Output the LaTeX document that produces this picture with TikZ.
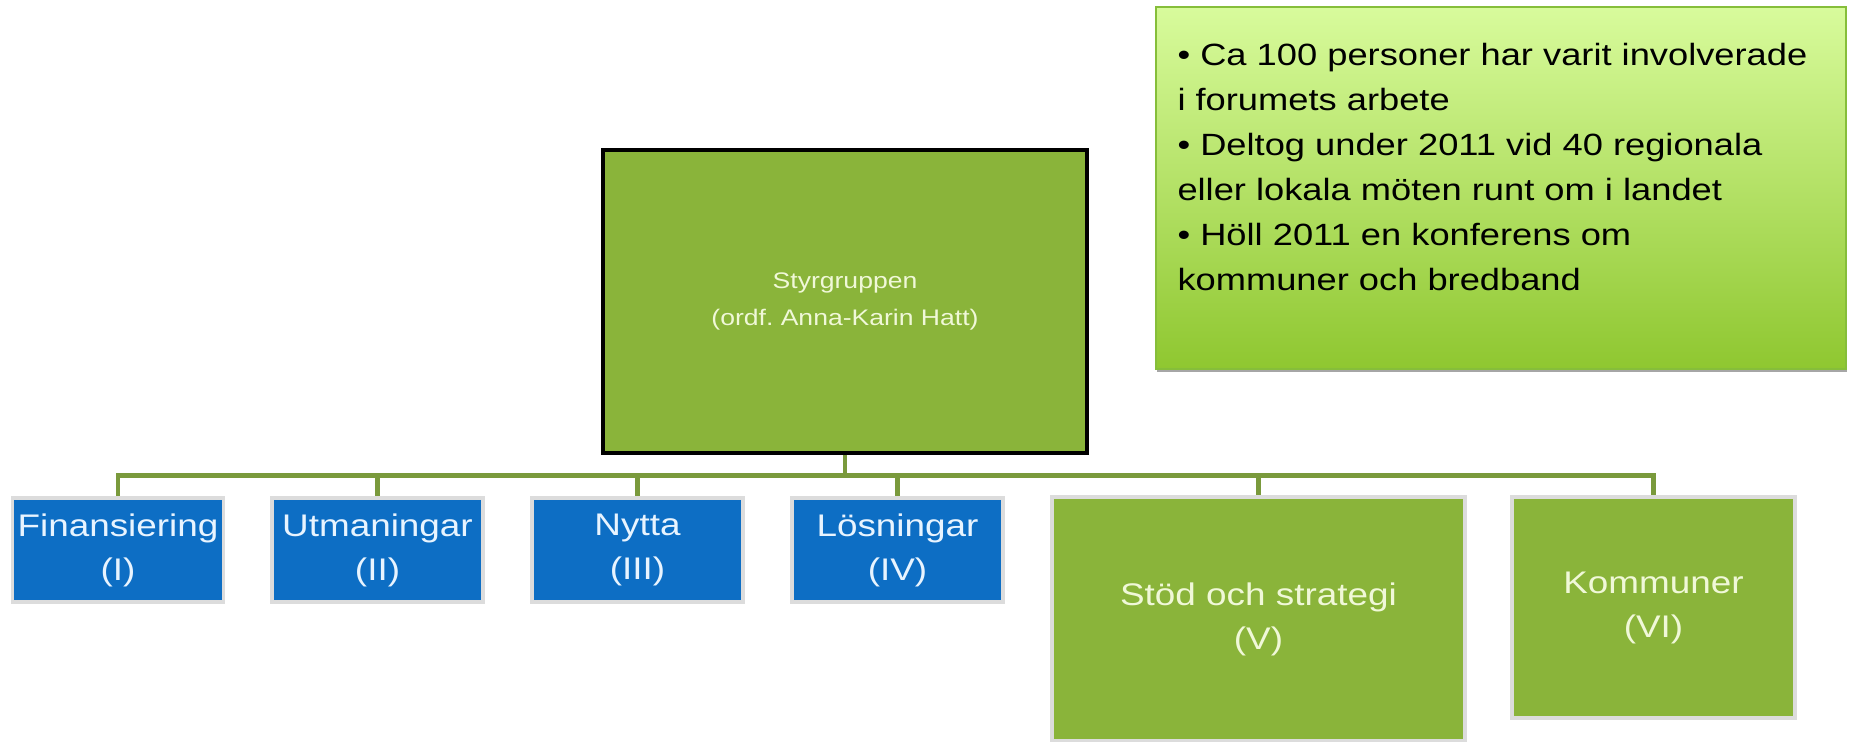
\documentclass[tikz,border=0pt]{standalone}
\usepackage{fontspec}
\setmainfont{Liberation Sans}[FakeStretch=1.18]
\usetikzlibrary{shadows}
\definecolor{blueF}{HTML}{0D6EC4}
\definecolor{blueT}{HTML}{E8F4FF}
\definecolor{greenF}{HTML}{8AB43A}
\definecolor{greenT}{HTML}{F0F8D8}
\definecolor{haloC}{HTML}{DCDCDC}
\definecolor{connC}{HTML}{7A9A3C}
\definecolor{infoTop}{HTML}{D8FB9C}
\definecolor{infoBot}{HTML}{8FC730}
\definecolor{infoBorder}{HTML}{86BE3A}
\frenchspacing
\begin{document}
\begin{tikzpicture}[x=0.4pt,y=-0.4pt,
  box/.style={rectangle, inner sep=0pt, align=center, font=\fontsize{12.5pt}{17.6pt}\selectfont},
  bluebox/.style={box, fill=blueF, draw=haloC, line width=1.4pt, text=blueT, minimum width=84.4pt, minimum height=41.6pt},
  greenbox/.style={box, fill=greenF, draw=haloC, line width=1.4pt, text=greenT},
  topbox/.style={box, fill=greenF, draw=black, line width=1.8pt, text=greenT, font=\fontsize{9pt}{14.8pt}\selectfont, minimum width=193.6pt, minimum height=121.2pt},
  conn/.style={draw=connC, line width=1.8pt},
  infobox/.style={rectangle, draw=infoBorder, line width=0.6pt, top color=infoTop, bottom color=infoBot, minimum width=276pt, minimum height=144.8pt, drop shadow={shadow xshift=0.4pt, shadow yshift=-1.2pt, fill=black!35, opacity=1}},
  infotext/.style={inner sep=0pt, align=left, text=black, font=\fontsize{12.3pt}{18pt}\selectfont}
]
\useasboundingbox (0,0) rectangle (1849,741);

\node[infobox] (info) at (1501,188) {};
\node[infotext, anchor=north west] (infotxt) at (1177,43) {%
• Ca 100 personer har varit involverade\\
i forumets arbete\\
• Deltog under 2011 vid 40 regionala\\
eller lokala möten runt om i landet\\
• Höll 2011 en konferens om\\
kommuner och bredband};

\node[topbox] (top) at (845,301.5) {Styrgruppen\\(ordf.\ Anna-Karin Hatt)};

\node[bluebox] (fin) at (118,550) {Finansiering\\(I)};
\node[bluebox] (utm) at (377.5,550) {Utmaningar\\(II)};
\node[bluebox] (nyt) at (637.5,550) {Nytta\\(III)};
\node[bluebox] (los) at (897.5,550) {Lösningar\\(IV)};
\node[greenbox, minimum width=165.2pt, minimum height=97.6pt] (stod) at (1258.5,619) {Stöd och strategi\\(V)};
\node[greenbox, minimum width=113.2pt, minimum height=88.4pt] (komm) at (1653.5,607.5) {Kommuner\\(VI)};

\foreach \c in {fin,utm,nyt,los,stod,komm}
  \draw[conn] (top.south) -- ++(0,20) -| (\c.north);
\end{tikzpicture}
\end{document}
